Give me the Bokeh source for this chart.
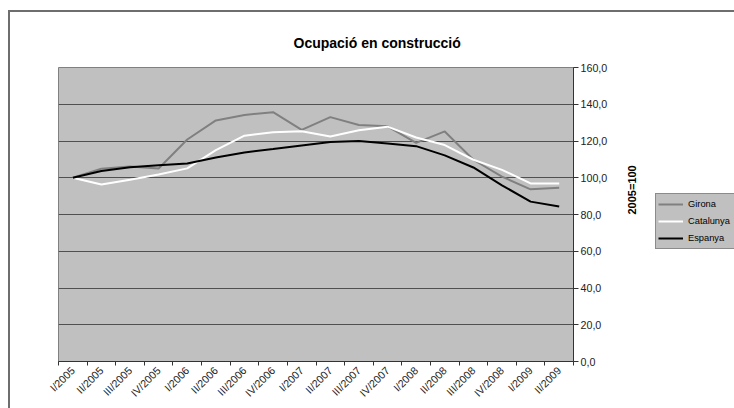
import math
from bokeh.plotting import figure
from bokeh.layouts import row
from bokeh.models import (Range1d, LinearAxis, FixedTicker, Legend, LegendItem, Grid)
from bokeh.embed import file_html
from bokeh.resources import INLINE

quarters = ["I/2005", "II/2005", "III/2005", "IV/2005",
            "I/2006", "II/2006", "III/2006", "IV/2006",
            "I/2007", "II/2007", "III/2007", "IV/2007",
            "I/2008", "II/2008", "III/2008", "IV/2008",
            "I/2009", "II/2009"]
girona = [100.0, 104.9, 106.1, 105.0, 120.8, 131.2, 134.2, 135.7, 126.1,
          133.0, 128.7, 128.0, 119.0, 125.2, 109.8, 100.6, 93.7, 94.6]
catalunya = [100.0, 96.3, 98.9, 101.8, 105.1, 115.0, 122.9, 124.7, 125.3,
             122.4, 125.9, 127.8, 121.9, 117.8, 109.8, 104.3, 96.9, 96.9]
espanya = [100.0, 103.7, 105.7, 106.8, 107.7, 111.0, 113.8, 115.6, 117.6,
           119.4, 120.0, 118.7, 117.2, 112.2, 105.6, 95.9, 87.0, 84.3]
series_names = ["Girona", "Catalunya", "Espanya"]
series_colors = ["#808080", "white", "black"]
y_ticks = [0, 20, 40, 60, 80, 100, 120, 140, 160]
y_tick_labels = ["0,0", "20,0", "40,0", "60,0", "80,0", "100,0", "120,0", "140,0", "160,0"]
title_text = "Ocupació en construcció"
y_title = "2005=100"

FONT = "Liberation Sans"
n = len(quarters)
xs = [i + 0.5 for i in range(n)]
series = [girona, catalunya, espanya]
MAIN_W = 647
H = 408
BC = "#6e6e6e"

main_css = (f"linear-gradient({BC},{BC}) 8px 10px / {MAIN_W}px 2px no-repeat, "
            f"linear-gradient({BC},{BC}) 8px 10px / 2px {H}px no-repeat, white")
leg_css = f"linear-gradient({BC},{BC}) 0px 10px / 100px 2px no-repeat, white"

p = figure(width=MAIN_W, height=H, output_backend="svg", toolbar_location=None,
           x_range=Range1d(0, n), y_range=Range1d(0, 160),
           x_axis_location=None, y_axis_location=None,
           min_border_left=58, min_border_right=MAIN_W - 573, min_border_top=67,
           min_border_bottom=47,
           background_fill_color="#C0C0C0", border_fill_color=None,
           outline_line_color="#808080", outline_line_width=1,
           styles={"background": main_css})

for g in list(p.grid):
    g.visible = False

# title
p.title.text = title_text
p.title.align = "left"
p.title.offset = 235
p.title.vertical_align = "top"
p.title.standoff = 30
p.title.text_font = FONT
p.title.text_font_size = "14px"
p.title.text_font_style = "bold"
p.title.text_color = "black"

# x axis (ticks between categories, labels under categories)
xaxis = LinearAxis(ticker=FixedTicker(ticks=xs, minor_ticks=list(range(n + 1))),
                   major_label_overrides={x: q for x, q in zip(xs, quarters)})
xaxis.major_label_orientation = math.pi / 4
xaxis.major_tick_out = 0
xaxis.major_tick_in = 0
xaxis.minor_tick_out = 4
xaxis.minor_tick_in = 0
xaxis.minor_tick_line_color = "#333333"
xaxis.axis_line_color = "#333333"
xaxis.major_label_standoff = 3
xaxis.major_label_text_font = FONT
xaxis.major_label_text_font_size = "10.7px"
xaxis.major_label_text_color = "#222222"
p.add_layout(xaxis, "below")

# y axis on the right
yaxis = LinearAxis(ticker=FixedTicker(ticks=y_ticks),
                   major_label_overrides={t: l for t, l in zip(y_ticks, y_tick_labels)})
yaxis.major_tick_out = 5
yaxis.major_tick_in = 0
yaxis.minor_tick_out = 0
yaxis.minor_tick_in = 0
yaxis.major_tick_line_color = "#333333"
yaxis.axis_line_color = "#333333"
yaxis.major_label_standoff = 2
yaxis.major_label_text_font = FONT
yaxis.major_label_text_font_size = "10.7px"
yaxis.major_label_text_color = "#222222"
yaxis.axis_label = y_title
yaxis.axis_label_standoff = 22
yaxis.axis_label_text_font = FONT
yaxis.axis_label_text_font_size = "11px"
yaxis.axis_label_text_font_style = "bold"
yaxis.axis_label_text_color = "black"
try:
    yaxis.axis_label_orientation = math.pi / 2
except Exception:
    pass
p.add_layout(yaxis, "right")

grid = Grid(dimension=1, ticker=yaxis.ticker, grid_line_color="#505050", grid_line_width=1)
p.add_layout(grid)

for vals, col in zip(series, series_colors):
    p.line(xs, vals, line_color=col, line_width=2)

# legend panel (separate small canvas to the right; its frame aligns with the main frame)
LEG_W = 734 - MAIN_W
pl = figure(width=LEG_W, height=H, output_backend="svg", toolbar_location=None,
            x_axis_location=None, y_axis_location=None,
            x_range=Range1d(-2, -1), y_range=Range1d(-2, -1),
            min_border=0, border_fill_color=None, background_fill_color=None,
            outline_line_color=None, styles={"background": leg_css})
for g in list(pl.grid):
    g.visible = False
items = []
for name, vals, col in zip(series_names, series, series_colors):
    r = pl.line(xs, vals, line_color=col, line_width=2)
    items.append(LegendItem(label=name, renderers=[r]))

legend = Legend(items=items, location=(8, 112), margin=0,
                padding=2, spacing=1,
                glyph_width=25, glyph_height=16, label_height=16, label_standoff=5,
                label_width=50,
                label_text_font=FONT, label_text_font_size="9.3px",
                label_text_color="black",
                background_fill_color="#C0C0C0", background_fill_alpha=1,
                border_line_color="#555555", border_line_width=1)
pl.add_layout(legend)

layout = row(p, pl, spacing=0)
open("out.html", "w").write(file_html(layout, INLINE))
